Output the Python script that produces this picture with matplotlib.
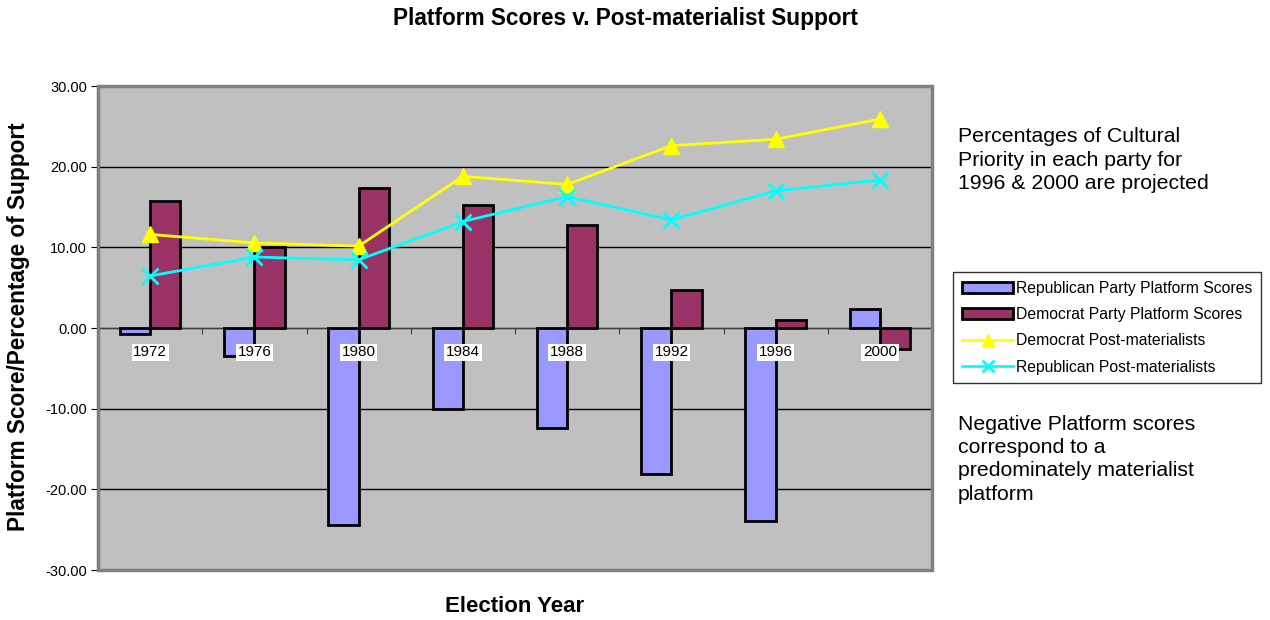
import matplotlib
matplotlib.use("Agg")
import matplotlib.pyplot as plt
import numpy as np
from matplotlib.patches import Rectangle

plt.rcParams['font.family'] = ['Liberation Sans', 'DejaVu Sans']

years = ["1972", "1976", "1980", "1984", "1988", "1992", "1996", "2000"]
rep_platform = [-0.7, -3.45, -24.4, -10.0, -12.45, -18.1, -23.95, 2.35]
dem_platform = [15.8, 10.0, 17.3, 15.3, 12.8, 4.75, 0.95, -2.55]
dem_postmat = [11.6, 10.55, 10.15, 18.8, 17.8, 22.6, 23.4, 25.9]
rep_postmat = [6.45, 8.8, 8.45, 13.2, 16.3, 13.4, 17.0, 18.35]

fig = plt.figure(figsize=(12.7, 6.2), dpi=100)
ax = fig.add_axes([98/1270, 50/620, 834/1270, 484/620])
ax.set_facecolor('#C0C0C0')

x = np.arange(len(years))
w = 0.29
b1 = ax.bar(x - w/2, rep_platform, w, color='#9999FF', edgecolor='black', linewidth=2,
            label='Republican Party Platform Scores', zorder=3)
b2 = ax.bar(x + w/2, dem_platform, w, color='#993366', edgecolor='black', linewidth=2,
            label='Democrat Party Platform Scores', zorder=3)
l1, = ax.plot(x, dem_postmat, color='#FFFF00', linewidth=2, marker='^', markersize=11,
              label='Democrat Post-materialists', zorder=4)
l2, = ax.plot(x, rep_postmat, color='#00FFFF', linewidth=2, marker='x', markersize=11,
              markeredgewidth=2, label='Republican Post-materialists', zorder=4)

ax.set_xlim(-0.5, len(years) - 0.5)
ax.set_ylim(-30, 30)
ax.set_yticks(np.arange(-30, 31, 10))
ax.set_yticklabels([f"{v:.2f}" for v in np.arange(-30, 31, 10)], fontsize=10.5)
ax.yaxis.grid(True, color='black', linewidth=1)
ax.set_axisbelow(True)

ax.spines['bottom'].set_position(('data', 0))
ax.spines['bottom'].set_color('#404040')
ax.spines['bottom'].set_zorder(2.5)
ax.spines['top'].set_visible(False)
ax.spines['right'].set_visible(False)
ax.spines['left'].set_color('#303030')
ax.spines['left'].set_linewidth(1.5)
ax.add_patch(Rectangle((0, 0), 1, 1, transform=ax.transAxes, fill=False,
                       edgecolor='#808080', linewidth=2.5, zorder=5, clip_on=False))

ax.set_xticks(np.arange(-0.5, len(years), 1))
ax.set_xticklabels([])
ax.tick_params(axis='x', which='major', direction='out', length=4, color='#404040')
ax.tick_params(axis='y', direction='out', length=5, pad=3)

for xi, yr in zip(x, years):
    ax.annotate(yr, xy=(xi, 0), xytext=(0, -17.5), textcoords='offset points',
                ha='center', va='center', fontsize=11, zorder=6,
                bbox=dict(facecolor='white', edgecolor='none', pad=1.2))

fig.text(625/1270, 1 - 19/620, 'Platform Scores v. Post-materialist Support',
         ha='center', va='center', fontsize=16.3, fontweight='bold')
fig.text(515/1270, 1 - 607/620, 'Election Year', ha='center', va='center',
         fontsize=16, fontweight='bold')
fig.text(19/1270, 1 - 327/620, 'Platform Score/Percentage of Support', ha='center',
         va='center', rotation=90, fontsize=16.3, fontweight='bold')

fig.text(958/1270, 1 - 127/620,
         'Percentages of Cultural\nPriority in each party for\n1996 & 2000 are projected',
         ha='left', va='top', fontsize=15.3, linespacing=1.3)
fig.text(958/1270, 1 - 415/620,
         'Negative Platform scores\ncorrespond to a\npredominately materialist\nplatform',
         ha='left', va='top', fontsize=15.3, linespacing=1.28)

leg = fig.legend(handles=[b1, b2, l1, l2], loc='upper left',
                 bbox_to_anchor=(953/1270, 1 - 272/620),
                 fontsize=11.3, frameon=True, fancybox=False, edgecolor='black',
                 handlelength=3.3, handletextpad=0.15, borderpad=0.55,
                 labelspacing=0.72, borderaxespad=0, markerscale=0.75)
leg.get_frame().set_linewidth(1)

fig.savefig('out.png', dpi=100)
